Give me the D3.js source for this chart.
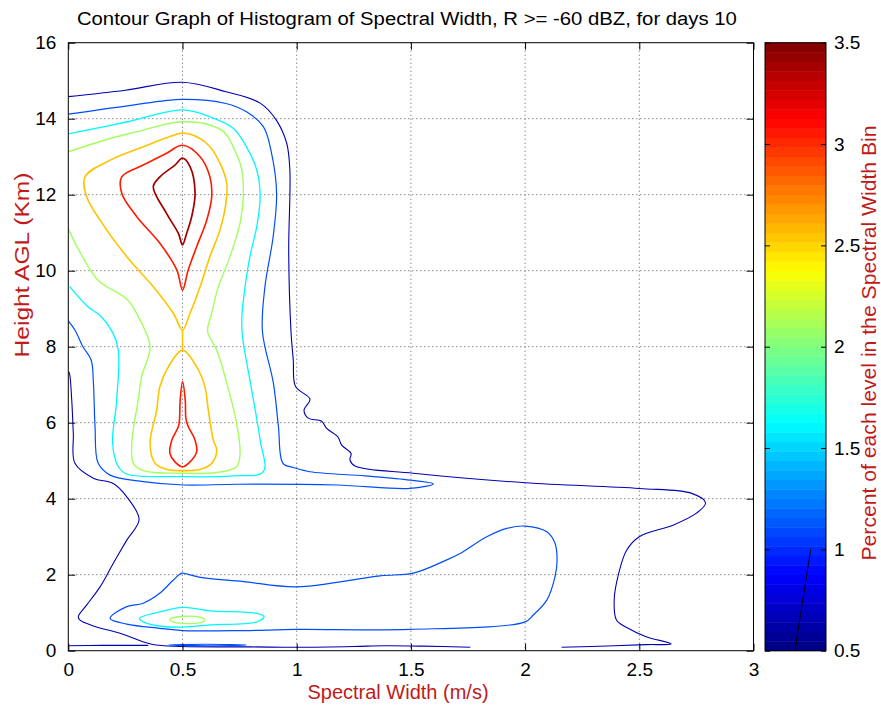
<!DOCTYPE html>
<html><head><meta charset="utf-8">
<script src="https://cdn.jsdelivr.net/npm/d3@7"></script>
<style>body{margin:0;background:#fff} text{font-family:"Liberation Sans",Arial,sans-serif}</style>
</head><body><svg id="c" width="881" height="709"></svg>
<script>
// ---------- data ----------
const xTicks=[0,0.5,1,1.5,2,2.5,3];
const yTicks=[0,2,4,6,8,10,12,14,16];
const cTicks=[0.5,1,1.5,2,2.5,3,3.5];
const xTickLabels=["0","0.5","1","1.5","2","2.5","3"];
const cTickLabels=["0.5","1","1.5","2","2.5","3","3.5"];
// contour level values (percent)
const levels=[0.65,1.1,1.6,2.1,2.55,3.05,3.4];

// contour lines: [spectral width, height]
const navyMain=[[2.16,0.09],[2.39,0.13],[2.53,0.16],[2.64,0.18],[2.53,0.37],[2.445,0.61],[2.40,0.81],[2.39,1.33],[2.41,2.04],[2.445,2.65],[2.50,3.0],[2.65,3.31],[2.75,3.62],[2.79,3.89],[2.73,4.14],[2.5,4.27],[2.0,4.42],[1.51,4.67],[1.255,4.86],[1.233,5.02],[1.238,5.19],[1.197,5.41],[1.18,5.63],[1.131,5.85],[1.109,6.04],[1.051,6.12],[1.032,6.33],[1.058,6.62],[0.995,6.95],[0.985,7.65],[0.975,8.4],[0.965,10.5],[0.97,12.65],[0.956,13.36],[0.91,13.97],[0.84,14.41],[0.69,14.71],[0.5,14.96],[0.25,14.75],[0,14.58]];
const navyLeft=[[0,7.35],[0.005,7.3],[0.015,6.6],[0.022,5.72],[0.029,4.93],[0.11,4.54],[0.197,4.4],[0.256,4.05],[0.31,3.45],[0.256,2.91],[0.197,2.3],[0.139,1.68],[0.08,1.2],[0.044,0.9],[0.05,0.81],[0.11,0.65],[0.226,0.46],[0.365,0.17],[0.5,0.11],[0.8,0.1],[1.0,0.09],[1.25,0.11],[1.38,0.13],[1.55,0.12],[1.76,0.09]];
const navyBottom=[[0,0.13],[0.15,0.14],[0.35,0.14]];
const blueUpper=[[0,14.12],[0.26,14.34],[0.5,14.51],[0.69,14.4],[0.78,14.18],[0.854,13.79],[0.89,13.09],[0.912,12.04],[0.897,10.9],[0.861,9.58],[0.85,8.4],[0.898,7.04],[0.92,5.9],[0.94,4.93],[0.985,4.82],[1.058,4.71],[1.3,4.6],[1.496,4.49],[1.598,4.39],[1.496,4.27],[1.175,4.36],[0.737,4.38],[0.503,4.36],[0.328,4.45],[0.183,4.62],[0.131,4.93],[0.117,5.9],[0.11,7.04],[0.1,7.65],[0.064,8.0],[0.029,8.44],[0,8.68]];
const blueLower=[[0.497,2.04],[0.46,1.86],[0.4,1.51],[0.328,1.25],[0.256,1.16],[0.183,0.85],[0.256,0.7],[0.4,0.59],[0.503,0.53],[0.766,0.53],[1.0,0.56],[1.496,0.56],[2.0,0.76],[2.036,0.94],[2.095,1.33],[2.131,1.95],[2.14,2.39],[2.131,2.83],[2.095,3.13],[2.0,3.28],[1.92,3.22],[1.832,3.0],[1.715,2.56],[1.657,2.39],[1.51,2.04],[1.365,1.97],[1.0,1.68],[0.766,1.82],[0.577,1.93],[0.518,2.02]];
const blueBottom=[[0.44,0.15],[0.6,0.17],[0.78,0.15],[0.6,0.13]];
const cyanMain=[[0,13.6],[0.26,13.92],[0.5,14.23],[0.62,14.05],[0.722,13.75],[0.78,13.26],[0.825,12.65],[0.84,11.95],[0.825,11.16],[0.795,10.37],[0.774,9.58],[0.76,8.8],[0.762,8.3],[0.803,6.86],[0.84,5.54],[0.854,4.71],[0.722,4.6],[0.503,4.58],[0.256,4.65],[0.219,4.84],[0.194,5.46],[0.212,6.6],[0.219,7.91],[0.196,8.35],[0.145,8.79],[0.086,9.05],[0.006,9.58]];
const cyanLoop=[[0.311,0.85],[0.4,1.02],[0.503,1.14],[0.62,1.05],[0.825,0.98],[0.857,0.9],[0.825,0.76],[0.62,0.68],[0.503,0.62],[0.4,0.65],[0.328,0.76]];
const greenMain=[[0,13.13],[0.183,13.48],[0.328,13.7],[0.445,13.88],[0.5,13.92],[0.59,13.88],[0.68,13.66],[0.722,13.26],[0.76,12.65],[0.766,11.95],[0.752,11.25],[0.708,10.37],[0.657,9.58],[0.628,8.88],[0.61,8.4],[0.65,7.91],[0.694,7.04],[0.737,5.98],[0.752,5.19],[0.737,4.84],[0.65,4.69],[0.503,4.67],[0.328,4.74],[0.285,4.93],[0.278,5.46],[0.306,6.6],[0.321,7.21],[0.358,8.0],[0.314,8.7],[0.26,9.23],[0.13,9.75],[0.05,10.5],[0,11.1]];
const greenLoop=[[0.445,0.83],[0.496,0.9],[0.577,0.88],[0.598,0.81],[0.577,0.74],[0.496,0.72],[0.46,0.76]];
const yellowTop=[[0.5,8.44],[0.533,8.88],[0.577,9.58],[0.62,10.37],[0.664,11.07],[0.69,11.77],[0.694,12.3],[0.664,12.83],[0.62,13.26],[0.577,13.48],[0.5,13.62],[0.445,13.53],[0.328,13.26],[0.183,12.91],[0.073,12.47],[0.08,11.95],[0.139,11.33],[0.256,10.37],[0.372,9.58],[0.46,8.88]];
const yellowNeck=[[0.5,8.44],[0.5,7.91]];
const yellowBottom=[[0.5,7.91],[0.562,7.47],[0.598,6.95],[0.613,6.33],[0.635,5.54],[0.65,5.28],[0.628,4.93],[0.577,4.77],[0.5,4.74],[0.431,4.77],[0.38,4.93],[0.358,5.46],[0.387,6.33],[0.401,6.95],[0.438,7.47]];
const redTop=[[0.5,13.3],[0.577,13.0],[0.62,12.47],[0.628,11.95],[0.606,11.33],[0.562,10.63],[0.525,10.02],[0.5,9.49],[0.475,10.02],[0.401,10.72],[0.3,11.42],[0.234,12.04],[0.234,12.47],[0.328,12.78],[0.43,13.09]];
const redBottom=[[0.5,7.08],[0.512,6.6],[0.515,6.1],[0.525,5.9],[0.555,5.54],[0.562,5.24],[0.533,4.97],[0.5,4.84],[0.467,4.97],[0.445,5.19],[0.453,5.54],[0.482,5.9],[0.487,6.1],[0.49,6.6]];
const darkRed=[[0.5,12.96],[0.533,12.74],[0.555,12.04],[0.54,11.42],[0.518,10.98],[0.5,10.68],[0.482,10.98],[0.43,11.51],[0.372,12.21],[0.401,12.47],[0.467,12.78]];

const contourSet=[
 {lv:0,pts:navyMain,closed:false},{lv:0,pts:navyLeft,closed:false},{lv:0,pts:navyBottom,closed:false},
 {lv:1,pts:blueUpper,closed:false},{lv:1,pts:blueLower,closed:true},{lv:1,pts:blueBottom,closed:true},
 {lv:2,pts:cyanMain,closed:false},{lv:2,pts:cyanLoop,closed:true},
 {lv:3,pts:greenMain,closed:false},{lv:3,pts:greenLoop,closed:true},
 {lv:4,pts:yellowTop,closed:true},{lv:4,pts:yellowNeck,closed:false},{lv:4,pts:yellowBottom,closed:true},
 {lv:5,pts:redTop,closed:true},{lv:5,pts:redBottom,closed:true},
 {lv:6,pts:darkRed,closed:true}
];

// ---------- drawing ----------
const svg=d3.select("#c");
const L=68.3,R=753.5,T=42.7,B=650.7;
const x=d3.scaleLinear([0,3],[L,R]);
const y=d3.scaleLinear([0,16],[B,T]);
const cmin=0.5,cmax=3.5;
function jet(v){
  const t=(v-cmin)/(cmax-cmin);
  const c=u=>Math.round(255*Math.max(0,Math.min(1,u)));
  return d3.rgb(c(1.5-Math.abs(4*t-3)),c(1.5-Math.abs(4*t-2)),c(1.5-Math.abs(4*t-1))).formatHex();
}
const labelRed="#c01a1a";
const lineW=[1.1,1.2,1.3,1.4,1.6,1.6,1.7];

// grid
const g=svg.append("g");
g.selectAll(".gx").data(xTicks.slice(1,-1)).join("line")
 .attr("x1",d=>x(d)).attr("x2",d=>x(d)).attr("y1",T).attr("y2",B)
 .attr("stroke","#555").attr("stroke-width",1).attr("stroke-dasharray","1,3");
g.selectAll(".gy").data(yTicks.slice(1,-1)).join("line")
 .attr("y1",d=>y(d)).attr("y2",d=>y(d)).attr("x1",L).attr("x2",R)
 .attr("stroke","#555").attr("stroke-width",1).attr("stroke-dasharray","1,3");

// contours
svg.append("clipPath").attr("id","pc").append("rect").attr("x",L).attr("y",T).attr("width",R-L).attr("height",B-T);
const lineOpen=d3.line().x(d=>x(d[0])).y(d=>y(d[1])).curve(d3.curveCatmullRom.alpha(0.5));
const lineClosed=d3.line().x(d=>x(d[0])).y(d=>y(d[1])).curve(d3.curveCatmullRomClosed.alpha(0.5));
svg.append("g").attr("clip-path","url(#pc)").selectAll("path").data(contourSet).join("path")
 .attr("d",d=>(d.closed?lineClosed:lineOpen)(d.pts))
 .attr("fill","none").attr("stroke",d=>jet(levels[d.lv])).attr("stroke-width",d=>lineW[d.lv]).attr("stroke-linejoin","round");

// axes with inward ticks
const tl=7;
const ax=svg.append("g");
ax.append("g").attr("transform",`translate(0,${B})`).call(d3.axisBottom(x).tickValues(xTicks).tickFormat((d,i)=>xTickLabels[i]).tickSizeInner(-tl).tickSizeOuter(0).tickPadding(12));
ax.append("g").attr("transform",`translate(0,${T})`).call(d3.axisTop(x).tickValues(xTicks).tickFormat("").tickSizeInner(-tl).tickSizeOuter(0));
ax.append("g").attr("transform",`translate(${L},0)`).call(d3.axisLeft(y).tickValues(yTicks).tickSizeInner(-tl).tickSizeOuter(0).tickPadding(12));
ax.append("g").attr("transform",`translate(${R},0)`).call(d3.axisRight(y).tickValues(yTicks).tickFormat("").tickSizeInner(-tl).tickSizeOuter(0));
ax.selectAll(".domain").remove();
ax.selectAll("text").attr("font-size",19).attr("font-family","'Liberation Sans',Arial,sans-serif").attr("fill","#000");
svg.append("rect").attr("x",L).attr("y",T).attr("width",R-L).attr("height",B-T).attr("fill","none").attr("stroke","#000").attr("stroke-width",1);

// title & labels
svg.append("text").attr("x",(L+R)/2-4).attr("y",25).attr("text-anchor","middle").attr("font-size",18)
 .attr("textLength",660).attr("lengthAdjust","spacingAndGlyphs")
 .text("Contour Graph of Histogram of Spectral Width, R >= -60 dBZ, for days 10");
svg.append("text").attr("x",398).attr("y",699).attr("text-anchor","middle").attr("font-size",20).attr("fill",labelRed)
 .text("Spectral Width (m/s)");
svg.append("text").attr("transform","translate(29,265) rotate(-90)").attr("text-anchor","middle").attr("font-size",21).attr("fill",labelRed)
 .attr("textLength",185).attr("lengthAdjust","spacingAndGlyphs")
 .text("Height AGL (Km)");

// colorbar
const cbL=765,cbR=826;
const cy=d3.scaleLinear([cmin,cmax],[B,T]);
const nC=64, step=(cmax-cmin)/nC;
const cb=svg.append("g");
cb.selectAll("rect").data(d3.range(nC)).join("rect")
 .attr("x",cbL).attr("width",cbR-cbL)
 .attr("y",i=>cy(cmin+(i+1)*step)).attr("height",i=>cy(cmin+i*step)-cy(cmin+(i+1)*step)+0.5)
 .attr("fill",i=>jet(cmin+(i+0.5)*step));
cb.append("g").attr("transform",`translate(${cbR},0)`).call(d3.axisRight(cy).tickValues(cTicks).tickFormat((d,i)=>cTickLabels[i]).tickSizeInner(-5).tickSizeOuter(0).tickPadding(8));
cb.append("g").attr("transform",`translate(${cbL},0)`).call(d3.axisLeft(cy).tickValues(cTicks).tickFormat("").tickSizeInner(-5).tickSizeOuter(0));
cb.selectAll(".domain").remove();
cb.selectAll("text").attr("font-size",19).attr("font-family","'Liberation Sans',Arial,sans-serif").attr("fill","#000");
cb.append("rect").attr("x",cbL).attr("y",T).attr("width",cbR-cbL).attr("height",B-T).attr("fill","none").attr("stroke","#000");
// stray line in colorbar
const cbx=d3.scaleLinear([0,1],[cbL,cbR]);
cb.append("line").attr("x1",cbx(0.49)).attr("y1",cy(0.5)).attr("x2",cbx(0.75)).attr("y2",cy(1.0)).attr("stroke","#000").attr("stroke-width",1);
svg.append("text").attr("transform","translate(876,343) rotate(-90)").attr("text-anchor","middle").attr("font-size",20).attr("fill",labelRed)
 .attr("textLength",435).attr("lengthAdjust","spacingAndGlyphs")
 .text("Percent of each level in the Spectral Width Bin");
</script></body></html>
